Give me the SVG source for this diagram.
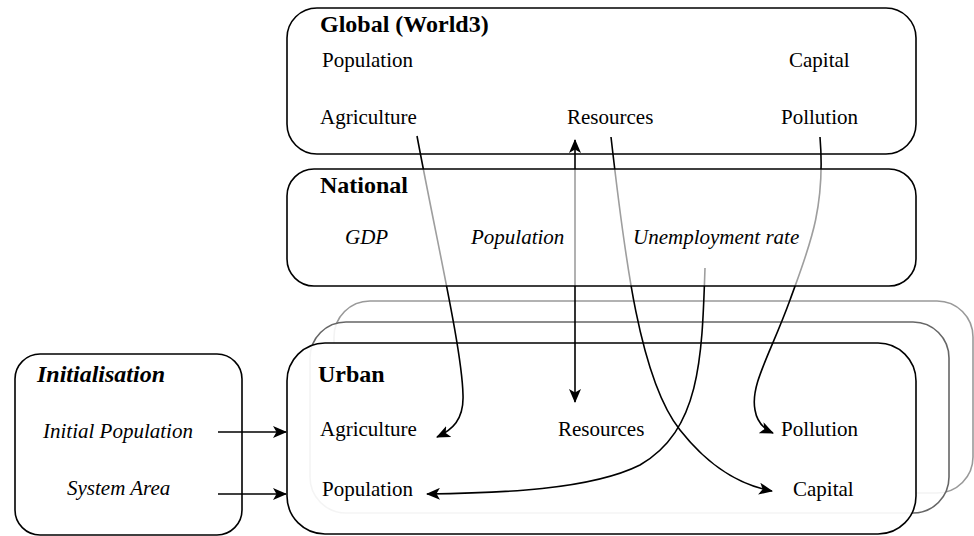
<svg xmlns="http://www.w3.org/2000/svg" width="974" height="536" viewBox="0 0 974 536">
<defs>
<style>
.t{font-size:24px;font-weight:bold;}
.b{font-size:21px;}
.i{font-size:21px;font-style:italic;}
.box{fill:#fff;stroke:#000;stroke-width:1.6;}
.edge{fill:none;stroke:#000;stroke-width:1.6;}
</style>
<marker id="ah" viewBox="0 0 14 12" refX="13" refY="6" markerWidth="14" markerHeight="12" markerUnits="userSpaceOnUse" orient="auto-start-reverse">
<path d="M0,0 L14,6 L0,12 L3.5,6 Z" fill="#000"/>
</marker>
</defs>
<rect width="974" height="536" fill="#fff"/>
<g id="global">
<rect class="box" x="287" y="8" width="629" height="146" rx="30"/>
</g>
<g id="urban-back2">
<rect x="334" y="301" width="639" height="192" rx="36" fill="#fff" fill-opacity="0.88" stroke="#999" stroke-width="1.6"/>
</g>
<g id="urban-back1">
<rect x="310" y="322" width="639" height="191" rx="36" fill="#fff" fill-opacity="0.88" stroke="#666" stroke-width="1.6"/>
</g>
<g id="urban">
<rect x="287" y="343" width="629" height="191" rx="38" fill="#fff" fill-opacity="0.93" stroke="#000" stroke-width="1.6"/>
</g>
<g id="init">
<rect class="box" x="15" y="354" width="227" height="181" rx="25"/>
</g>
<g id="connectors">
<path class="edge" d="M417,136 C 438,248 462,350 463,395 C 464,420 452,430 437,437" marker-end="url(#ah)"/>
<path class="edge" d="M575,140 L575,402" marker-start="url(#ah)" marker-end="url(#ah)"/>
<path class="edge" d="M611,137 C 625,260 640,380 680,430 C 710,468 740,485 772,491" marker-end="url(#ah)"/>
<path class="edge" d="M820,137 C 826,210 808,250 790,300 C 770,355 750,385 755,410 C 757,422 764,429 773,433" marker-end="url(#ah)"/>
<path class="edge" d="M705,268 C 702,360 700,430 640,465 C 590,490 500,493 427,494" marker-end="url(#ah)"/>
<path class="edge" d="M218,432 L286,432" marker-end="url(#ah)"/>
<path class="edge" d="M218,494 L286,494" marker-end="url(#ah)"/>
</g>
<g id="national">
<rect x="287" y="169" width="629" height="117" rx="27" fill="#fff" fill-opacity="0.62" stroke="#000" stroke-width="1.6"/>
</g>
<g id="labels" font-family="Liberation Serif, DejaVu Serif, serif" fill="#000">
<text class="t" x="320" y="32">Global (World3)</text>
<text class="b" x="322" y="67">Population</text>
<text class="b" x="789" y="67">Capital</text>
<text class="b" x="320" y="124">Agriculture</text>
<text class="b" x="567" y="124">Resources</text>
<text class="b" x="781" y="124">Pollution</text>
<text class="t" x="320" y="193">National</text>
<text class="i" x="345" y="244">GDP</text>
<text class="i" x="471" y="244">Population</text>
<text class="i" x="633" y="244">Unemployment rate</text>
<text class="t" x="318" y="382">Urban</text>
<text class="b" x="320" y="436">Agriculture</text>
<text class="b" x="558" y="436">Resources</text>
<text class="b" x="781" y="436">Pollution</text>
<text class="b" x="322" y="496">Population</text>
<text class="b" x="793" y="496">Capital</text>
<text class="t" x="37" y="382" font-style="italic">Initialisation</text>
<text class="i" x="43" y="438">Initial Population</text>
<text class="i" x="67" y="495">System Area</text>
</g>
</svg>
